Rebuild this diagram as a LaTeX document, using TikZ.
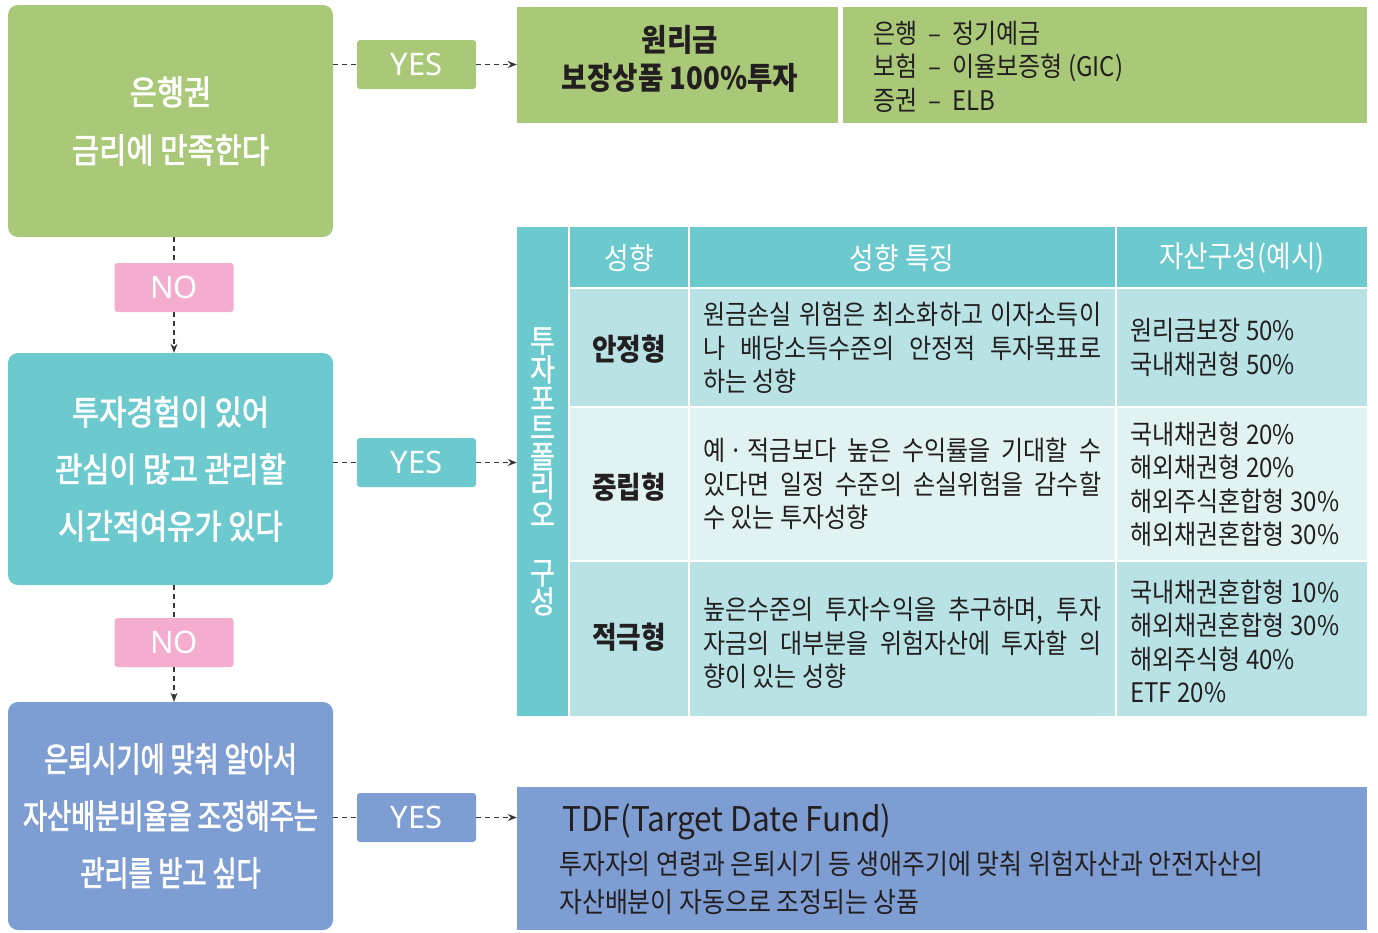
\documentclass[tikz,border=0pt]{standalone}
\usepackage{fontspec}
\setmainfont{Noto Sans CJK KR}
\newfontfamily\krA[FakeStretch=0.87,FakeBold=2.2]{Noto Sans CJK KR}
\newfontfamily\krB[FakeStretch=0.77,FakeBold=2.2]{Noto Sans CJK KR}
\newfontfamily\krV[FakeStretch=0.87,FakeBold=1.2]{Noto Sans CJK KR}
\newfontfamily\krT[FakeStretch=0.89]{Noto Sans CJK KR}
\newfontfamily\krW[FakeStretch=0.93]{Noto Sans CJK KR}
\newfontfamily\latf{Noto Sans}
\usetikzlibrary{arrows.meta}
\definecolor{gr}{RGB}{169,201,120}
\definecolor{tl}{RGB}{108,202,207}
\definecolor{pk}{RGB}{244,173,206}
\definecolor{bl}{RGB}{126,157,210}
\definecolor{rowa}{RGB}{184,226,228}
\definecolor{rowb}{RGB}{224,242,242}
\definecolor{ink}{RGB}{35,31,32}
\definecolor{linec}{RGB}{55,55,55}
\newcommand\setfs[2]{\fontsize{#1}{#2}\selectfont}
\newcommand\krdash{\hspace{11pt}–\hspace{11pt}}
\begin{document}
\begin{tikzpicture}[x=1pt,y=-1pt,
  bigbox/.style={rounded corners=10pt, minimum width=325pt, inner sep=0pt, text=white, align=center},
  tagbox/.style={rounded corners=3pt, minimum width=119pt, minimum height=49pt, inner sep=0pt, text=white, font=\latf\setfs{31}{31}},
  flow/.style={draw=linec, line width=1.1pt, dash pattern=on 5pt off 4pt},
  arr/.style={flow, -{Stealth[length=9pt,width=7pt]}},
  txt/.style={inner sep=0pt, text=ink, align=left, anchor=west},
  hdr/.style={inner sep=0pt, text=white, font=\krT\setfs{30}{30}},
  rowlab/.style={inner sep=0pt, text=ink, font=\krT\bfseries\setfs{30}{30}},
  body/.style={txt, font=\krT\setfs{27}{33.5}},
  cellbox/.style={inner sep=0pt}
]
\useasboundingbox (0,0) rectangle (1378,932);
\fill[white] (0,0) rectangle (1378,932);

% left decision boxes
\node[bigbox, fill=gr, minimum height=232pt, font=\krA\setfs{34}{58}] (g) at (170.5,121) {은행권\\금리에 만족한다};
\node[bigbox, fill=tl, minimum height=232pt, font=\krA\setfs{34}{57}] (t) at (170.5,469) {투자경험이 있어\\관심이 많고 관리할\\시간적여유가 있다};
\node[bigbox, fill=bl, minimum height=228pt, font=\krB\setfs{34}{57}] (b) at (170.5,816) {은퇴시기에 맞춰 알아서\\자산배분비율을 조정해주는\\관리를 받고 싶다};

% tags
\node[tagbox, fill=pk] (no1) at (174,287.5) {NO};
\node[tagbox, fill=pk] (no2) at (174,642.5) {NO};
\node[tagbox, fill=gr] (yes1) at (416.5,64.5) {YES};
\node[tagbox, fill=tl] (yes2) at (416.5,462.5) {YES};
\node[tagbox, fill=bl] (yes3) at (416.5,817.5) {YES};

% top right result
\node[cellbox, fill=gr, minimum width=321pt, minimum height=116pt] (p1) at (677.5,65) {};
\node[cellbox, fill=gr, minimum width=524pt, minimum height=116pt] (p2) at (1105,65) {};
\node[inner sep=0pt, text=ink, align=center, font=\krT\bfseries\setfs{31}{38}] (p1t) at (680,59) {원리금\\보장상품 100\%투자};
\node[body] (p2t) at (873,66.5) {은행\krdash 정기예금\\보험\krdash 이율보증형 (GIC)\\증권\krdash ELB};

% table
\node[cellbox, fill=tl, minimum width=51pt, minimum height=489pt, text=white, align=center, font=\krV\setfs{31}{29}] (vl) at (542.5,471.5) {투\\자\\포\\트\\폴\\리\\오\\[29pt]구\\성};
\fill[tl] (570,227) rectangle (688,287);
\fill[tl] (690,227) rectangle (1115,287);
\fill[tl] (1117,227) rectangle (1367,287);
\fill[rowa] (570,289) rectangle (688,406);
\fill[rowa] (690,289) rectangle (1115,406);
\fill[rowa] (1117,289) rectangle (1367,406);
\fill[rowb] (570,408) rectangle (688,560);
\fill[rowb] (690,408) rectangle (1115,560);
\fill[rowb] (1117,408) rectangle (1367,560);
\fill[rowa] (570,562) rectangle (688,716);
\fill[rowa] (690,562) rectangle (1115,716);
\fill[rowa] (1117,562) rectangle (1367,716);

\node[hdr] (h1) at (629,258) {성향};
\node[hdr] (h2) at (902,258) {성향 특징};
\node[hdr] (h3) at (1242,258) {자산구성(예시)};

\node[rowlab] (l1) at (629,349) {안정형};
\node[rowlab] (l2) at (629,487) {중립형};
\node[rowlab] (l3) at (629,637) {적극형};

\node[body] (m1) at (703,348) {\makebox[398pt][s]{원금손실 위험은 최소화하고 이자소득이}\\\makebox[398pt][s]{나 배당소득수준의 안정적 투자목표로}\\하는 성향};
\node[body] (m2) at (703,484) {\makebox[398pt][s]{예\,·\,적금보다 높은 수익률을 기대할 수}\\\makebox[398pt][s]{있다면 일정 수준의 손실위험을 감수할}\\수 있는 투자성향};
\node[body] (m3) at (703,643) {\makebox[398pt][s]{높은수준의 투자수익을 추구하며, 투자}\\\makebox[398pt][s]{자금의 대부분을 위험자산에 투자할 의}\\향이 있는 성향};

\node[body] (r1) at (1130,347.5) {원리금보장 50\%\\국내채권형 50\%};
\node[body] (r2) at (1130,484.5) {국내채권형 20\%\\해외채권형 20\%\\해외주식혼합형 30\%\\해외채권혼합형 30\%};
\node[body] (r3) at (1130,641.5) {국내채권혼합형 10\%\\해외채권혼합형 30\%\\해외주식형 40\%\\ETF 20\%};

% bottom result
\node[cellbox, fill=bl, minimum width=850pt, minimum height=143pt] (tdf) at (942,858.5) {};
\node[txt, font=\krW\setfs{34}{34}] (tdft) at (562,822) {TDF(Target Date Fund)};
\node[txt, font=\krT\setfs{28}{38}] (tdfb) at (559,883) {투자자의 연령과 은퇴시기 등 생애주기에 맞춰 위험자산과 안전자산의\\자산배분이 자동으로 조정되는 상품};

% connectors
\draw[flow] (g.east |- yes1.west) -- (yes1.west);
\draw[arr] (yes1.east) -- (p1.west |- yes1.east);
\draw[flow] (t.east |- yes2.west) -- (yes2.west);
\draw[arr] (yes2.east) -- (vl.west |- yes2.east);
\draw[flow] (b.east |- yes3.west) -- (yes3.west);
\draw[arr] (yes3.east) -- (tdf.west |- yes3.east);
\draw[flow] (no1.north |- g.south) -- (no1.north);
\draw[arr] (no1.south) -- (no1.south |- t.north);
\draw[flow] (no2.north |- t.south) -- (no2.north);
\draw[arr] (no2.south) -- (no2.south |- b.north);
\end{tikzpicture}
\end{document}
